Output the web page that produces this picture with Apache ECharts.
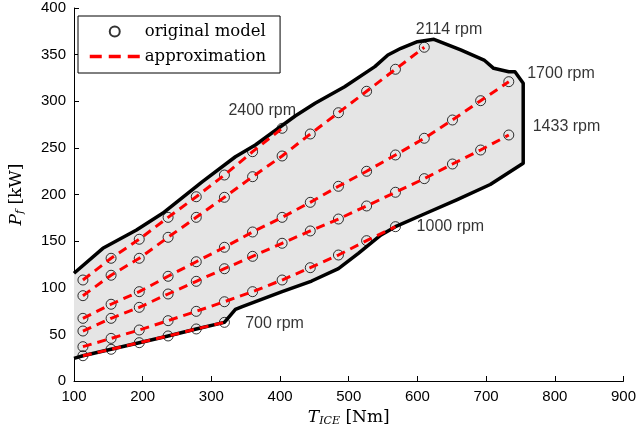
<!DOCTYPE html>
<html>
<head>
<meta charset="utf-8">
<script src="https://cdn.jsdelivr.net/npm/echarts@6/dist/echarts.min.js"></script>
<style>
  html, body { margin: 0; padding: 0; background: #fff; }
  #chart { width: 639px; height: 439px; }
</style>
</head>
<body>
<div id="chart"></div>
<script>
// Engine torque grid [Nm]
const torque = [113, 154, 195, 237, 278, 319, 360, 403, 444, 485, 526, 568, 610, 651, 692, 733];

// Fuel power [kW] per engine speed
const p700  = [27.1, 34.0, 41.1, 48.3, 55.8, 62.9];
const p1000 = [36.8, 45.7, 54.7, 64.7, 74.7, 85.0, 95.8, 108.3, 121.5, 135.1, 150.5, 165.5];
const p1433 = [53.6, 67.2, 79.0, 93.3, 106.9, 120.4, 133.7, 147.7, 160.9, 173.7, 187.7, 202.4, 217.0, 232.7, 247.7, 263.8];
const p1700 = [67.2, 82.3, 95.8, 112.3, 127.9, 143.4, 159.8, 175.5, 191.6, 208.8, 224.9, 242.4, 260.3, 279.9, 300.6, 321.0];
const p2114 = [91.5, 113.4, 131.6, 154.1, 175.5, 197.0, 219.1, 241.3, 264.9, 287.7, 310.7, 334.3, 357.9];
const p2400 = [108.3, 131.6, 152.0, 175.5, 197.6, 220.9, 245.9, 271.0];

// Operating region outline (torque, power)
const boundT = [100, 113, 154, 195, 237, 278, 319, 335, 345, 403, 446, 485, 514, 547, 568, 610, 658, 706, 754,
                754, 742, 733, 711, 697, 663, 624, 600, 576, 557, 538, 494, 451, 422, 364, 335, 287, 229, 191, 142, 100];
const boundP = [24.3, 27.1, 34.0, 41.1, 48.3, 55.8, 62.9, 76.7, 79.7, 95.8, 107.2, 120.6, 136.9, 156.6, 165.5, 179.1, 194.6, 210.7, 233.5,
                319.3, 331.7, 331.7, 335.3, 344.2, 355.0, 366.4, 363.9, 356.8, 349.6, 337.1, 315.6, 297.8, 284.2, 253.1, 240.5, 213.7, 179.8, 161.9, 142.3, 115.5];

// Speed annotations
const rpmNames = ['2400 rpm', '2114 rpm', '1700 rpm', '1433 rpm', '1000 rpm', '700 rpm'];
const rpmCurves = [p2400, p2114, p1700, p1433, p1000, p700];

// Annotation anchor points in axis units
const annoT = [374, 646, 809, 817, 648, 392];
const annoP = [289.5, 376.7, 330, 272.7, 165.5, 61.9];

const serif = 'DejaVu Serif';
const sans = 'Liberation Sans';

function pairs(vals) {
  return vals.map((v, i) => [torque[i], v]);
}

const series = [];

series.push({
  type: 'custom',
  silent: true,
  z: 1,
  data: [[0, 0]],
  renderItem: function (params, api) {
    const pts = boundT.map((t, i) => api.coord([t, boundP[i]]));
    return {
      type: 'group',
      children: [
        { type: 'polygon', shape: { points: pts }, style: { fill: '#e5e5e5', stroke: null } },
        { type: 'polyline', shape: { points: pts },
          style: { fill: null, stroke: '#000', lineWidth: 3.5, lineJoin: 'round' } }
      ]
    };
  }
});

rpmCurves.forEach(vals => {
  series.push({
    name: 'original model',
    type: 'scatter',
    z: 3,
    symbol: 'circle',
    symbolSize: 10,
    itemStyle: { color: 'rgba(0,0,0,0)', borderColor: '#000', borderWidth: 1 },
    data: pairs(vals)
  });
  series.push({
    name: 'approximation',
    type: 'line',
    z: 4,
    symbol: 'none',
    lineStyle: { color: '#ff0000', width: 3, type: [9, 6] },
    itemStyle: { color: '#ff0000' },
    data: pairs(vals)
  });
});

series.push({
  type: 'scatter',
  silent: true,
  z: 5,
  symbolSize: 1,
  itemStyle: { color: 'rgba(0,0,0,0)' },
  label: {
    show: true, position: 'inside', formatter: '{b}',
    fontFamily: sans, fontSize: 16, color: '#000'
  },
  data: rpmNames.map((n, i) => ({ name: n, value: [annoT[i], annoP[i]] }))
});

const chart = echarts.init(document.getElementById('chart'), null, { renderer: 'canvas' });
chart.setOption({
  animation: false,
  backgroundColor: '#fff',
  grid: { left: 70.7, right: 15, top: 8, bottom: 58 },
  legend: {
    data: [
      { name: 'original model' },
      { name: 'approximation', itemStyle: { opacity: 0 },
        lineStyle: { color: '#ff0000', width: 3.5, type: [12, 7] } }
    ],
    orient: 'vertical',
    left: 78, top: 16,
    itemWidth: 50, itemHeight: 10, itemGap: 8,
    padding: [7, 14, 8, 10],
    backgroundColor: '#fff',
    borderColor: '#000', borderWidth: 1, borderRadius: 0,
    textStyle: { fontFamily: serif, fontSize: 16.5, color: '#000' }
  },
  xAxis: {
    type: 'value', min: 100, max: 900, interval: 100,
    name: '{t|T}{s|ICE}{n| [Nm]}',
    nameLocation: 'middle', nameGap: 26,
    nameTextStyle: {
      rich: {
        t: { fontFamily: serif, fontStyle: 'italic', fontSize: 17, color: '#000' },
        s: { fontFamily: serif, fontStyle: 'italic', fontSize: 11, color: '#000', verticalAlign: 'bottom', padding: [8, 0, 0, 0] },
        n: { fontFamily: serif, fontSize: 17, color: '#000' }
      }
    },
    axisLine: { lineStyle: { color: '#000', width: 1 } },
    axisTick: { inside: true, length: 5, lineStyle: { color: '#000' } },
    axisLabel: { fontFamily: sans, fontSize: 15, color: '#000', margin: 8 },
    splitLine: { show: false }
  },
  yAxis: {
    type: 'value', min: 0, max: 400, interval: 50,
    name: '{t|P}{s|f}{n| [kW]}',
    nameLocation: 'middle', nameGap: 48, nameRotate: 90,
    nameTextStyle: {
      rich: {
        t: { fontFamily: serif, fontStyle: 'italic', fontSize: 17, color: '#000' },
        s: { fontFamily: serif, fontStyle: 'italic', fontSize: 11, color: '#000', verticalAlign: 'bottom', padding: [8, 0, 0, 0] },
        n: { fontFamily: serif, fontSize: 17, color: '#000' }
      }
    },
    axisLine: { show: true, lineStyle: { color: '#000', width: 1 } },
    axisTick: { show: true, inside: true, length: 5, lineStyle: { color: '#000' } },
    axisLabel: { fontFamily: sans, fontSize: 15, color: '#000', margin: 8 },
    splitLine: { show: false }
  },
  series: series
});
</script>
</body>
</html>
